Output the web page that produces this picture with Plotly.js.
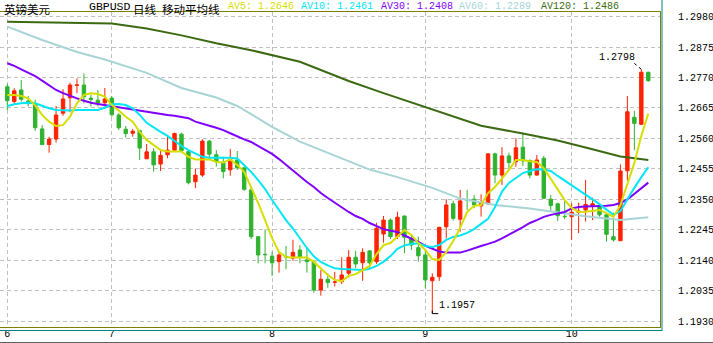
<!DOCTYPE html>
<html>
<head>
<meta charset="utf-8">
<script src="https://cdn.plot.ly/plotly-3.0.1.min.js"></script>
<style>
html,body{margin:0;padding:0;background:#fff;}
#chart{width:713px;height:343px;}
</style>
</head>
<body>
<div id="chart"></div>
<script>
// ---- data ----
const open = [1.2738,1.2687,1.2727,1.2689,1.2679,1.2593,1.2539,1.2558,1.2647,1.2700,
1.2743,1.2744,1.2699,1.2692,1.2683,1.2699,1.2641,1.2592,1.2578,1.2587,
1.2490,1.2514,1.2472,1.2504,1.2520,1.2575,1.2515,1.2411,1.2434,1.2551,
1.2504,1.2477,1.2452,1.2486,1.2459,1.2383,1.2222,1.2161,1.2155,1.2136,
1.2154,1.2148,1.2176,1.2142,1.2135,1.2038,1.2075,1.2065,1.2067,1.2096,
1.2151,1.2132,1.2173,1.2136,1.2231,1.2279,1.2222,1.2293,1.2216,1.2184,
1.2159,1.2070,1.2084,1.2256,1.2335,1.2282,1.2349,1.2351,1.2328,1.2335,
1.2507,1.2434,1.2500,1.2480,1.2530,1.2484,1.2434,1.2492,1.2351,1.2335,
1.2292,1.2291,1.2305,1.2314,1.2330,1.2328,1.2297,1.2222,1.2208,1.2449,
1.2633,1.2609,1.2788];
const high = [1.2748,1.2733,1.2761,1.2706,1.2693,1.2606,1.2566,1.2672,1.2730,1.2752,
1.2767,1.2784,1.2710,1.2727,1.2734,1.2706,1.2647,1.2603,1.2593,1.2590,
1.2541,1.2526,1.2524,1.2572,1.2580,1.2580,1.2520,1.2457,1.2557,1.2555,
1.2520,1.2497,1.2524,1.2517,1.2463,1.2394,1.2223,1.2247,1.2170,1.2167,
1.2190,1.2211,1.2193,1.2182,1.2142,1.2107,1.2096,1.2101,1.2151,1.2176,
1.2173,1.2182,1.2176,1.2270,1.2293,1.2285,1.2308,1.2295,1.2228,1.2222,
1.2176,1.2096,1.2256,1.2351,1.2346,1.2383,1.2383,1.2365,1.2368,1.2508,
1.2511,1.2530,1.2511,1.2561,1.2580,1.2488,1.2503,1.2500,1.2365,1.2339,
1.2346,1.2337,1.2339,1.2417,1.2356,1.2335,1.2302,1.2305,1.2471,1.2706,
1.2655,1.2798,1.2790];
const low = [1.2658,1.2679,1.2687,1.2670,1.2586,1.2537,1.2511,1.2546,1.2638,1.2650,
1.2716,1.2681,1.2670,1.2670,1.2670,1.2635,1.2589,1.2563,1.2566,1.2486,
1.2489,1.2446,1.2448,1.2492,1.2518,1.2516,1.2402,1.2389,1.2428,1.2486,
1.2463,1.2423,1.2432,1.2452,1.2380,1.2214,1.2130,1.2130,1.2087,1.2098,
1.2110,1.2139,1.2130,1.2098,1.2029,1.2019,1.2046,1.2050,1.2059,1.2082,
1.2113,1.2070,1.2113,1.2128,1.2201,1.2214,1.2214,1.2165,1.2176,1.2136,
1.2044,1.1957,1.2070,1.2216,1.2277,1.2239,1.2314,1.2320,1.2291,1.2331,
1.2406,1.2400,1.2452,1.2463,1.2465,1.2423,1.2432,1.2352,1.2308,1.2276,
1.2282,1.2211,1.2234,1.2274,1.2279,1.2291,1.2205,1.2205,1.2207,1.2415,
1.2520,1.2606,1.2755];
const close = [1.2690,1.2724,1.2695,1.2680,1.2597,1.2539,1.2558,1.2641,1.2696,1.2744,
1.2744,1.2704,1.2694,1.2683,1.2696,1.2642,1.2597,1.2577,1.2585,1.2527,
1.2514,1.2469,1.2502,1.2520,1.2577,1.2518,1.2408,1.2434,1.2551,1.2506,
1.2480,1.2446,1.2488,1.2459,1.2385,1.2222,1.2159,1.2160,1.2132,1.2159,
1.2152,1.2168,1.2151,1.2136,1.2038,1.2075,1.2064,1.2066,1.2090,1.2151,
1.2128,1.2168,1.2132,1.2251,1.2279,1.2222,1.2289,1.2220,1.2193,1.2156,
1.2073,1.2082,1.2254,1.2331,1.2285,1.2345,1.2348,1.2331,1.2337,1.2507,
1.2434,1.2500,1.2477,1.2528,1.2483,1.2434,1.2486,1.2354,1.2329,1.2294,
1.2291,1.2306,1.2310,1.2333,1.2335,1.2297,1.2230,1.2211,1.2448,1.2652,
1.2612,1.2788,1.2759];

const ma5 = [1.2710,1.2710,1.2706,1.2698,1.2674,1.2641,1.2618,1.2603,1.2606,1.2635,
1.2681,1.2710,1.2716,1.2713,1.2704,1.2675,1.2656,1.2635,1.2618,1.2583,
1.2555,1.2538,1.2520,1.2515,1.2515,1.2515,1.2497,1.2488,1.2488,1.2488,
1.2479,1.2477,1.2488,1.2469,1.2445,1.2393,1.2338,1.2279,1.2217,1.2169,
1.2152,1.2150,1.2150,1.2150,1.2135,1.2114,1.2090,1.2073,1.2069,1.2087,
1.2093,1.2107,1.2121,1.2162,1.2193,1.2200,1.2224,1.2245,1.2228,1.2200,
1.2176,1.2145,1.2142,1.2169,1.2207,1.2252,1.2307,1.2328,1.2331,1.2372,
1.2393,1.2421,1.2452,1.2486,1.2486,1.2482,1.2479,1.2458,1.2421,1.2383,
1.2348,1.2321,1.2307,1.2308,1.2310,1.2314,1.2303,1.2290,1.2331,1.2400,
1.2476,1.2569,1.2646];
const ma10 = [1.2672,1.2678,1.2681,1.2683,1.2681,1.2672,1.2664,1.2658,1.2656,1.2656,
1.2658,1.2658,1.2658,1.2658,1.2666,1.2678,1.2679,1.2675,1.2664,1.2641,
1.2614,1.2597,1.2583,1.2569,1.2551,1.2534,1.2520,1.2509,1.2497,1.2494,
1.2494,1.2494,1.2494,1.2491,1.2469,1.2445,1.2417,1.2386,1.2348,1.2314,
1.2279,1.2250,1.2216,1.2183,1.2154,1.2135,1.2123,1.2113,1.2111,1.2109,
1.2107,1.2107,1.2111,1.2121,1.2136,1.2155,1.2180,1.2192,1.2197,1.2199,
1.2190,1.2186,1.2193,1.2211,1.2221,1.2226,1.2235,1.2248,1.2266,1.2283,
1.2324,1.2377,1.2407,1.2424,1.2441,1.2448,1.2454,1.2453,1.2448,1.2431,
1.2415,1.2398,1.2383,1.2367,1.2350,1.2334,1.2315,1.2297,1.2310,1.2352,
1.2390,1.2427,1.2461];
const ma30 = [1.2819,1.2810,1.2798,1.2787,1.2775,1.2759,1.2744,1.2727,1.2716,1.2706,
1.2698,1.2690,1.2683,1.2679,1.2675,1.2673,1.2669,1.2664,1.2660,1.2656,
1.2651,1.2649,1.2644,1.2641,1.2638,1.2633,1.2630,1.2618,1.2612,1.2604,
1.2597,1.2589,1.2578,1.2567,1.2557,1.2548,1.2534,1.2520,1.2507,1.2489,
1.2469,1.2448,1.2431,1.2410,1.2393,1.2372,1.2355,1.2338,1.2321,1.2307,
1.2293,1.2283,1.2269,1.2259,1.2248,1.2242,1.2238,1.2226,1.2216,1.2204,
1.2190,1.2180,1.2171,1.2167,1.2167,1.2167,1.2174,1.2183,1.2190,1.2197,
1.2205,1.2216,1.2228,1.2242,1.2255,1.2269,1.2279,1.2290,1.2297,1.2302,
1.2307,1.2319,1.2324,1.2326,1.2326,1.2328,1.2328,1.2331,1.2338,1.2350,
1.2369,1.2390,1.2408];
// smooth long averages, read at these bar positions
const ma60Idx = [0,5,10,14,20,25,30,33,35,38,42,47,52,56,61,65,70,75,79,83,88,92];
const ma60 = [1.2945,1.2899,1.2858,1.2832,1.2786,1.2734,1.2701,1.2672,1.2644,1.2600,1.2549,
1.2501,1.2453,1.2427,1.2390,1.2353,1.2331,1.2319,1.2305,1.2292,1.2279,1.2289];
const ma120Idx = [0,7,15,20,25,30,35,42,49,54,59,64,68,74,79,83,88,92];
const ma120 = [1.2962,1.2960,1.2956,1.2939,1.2915,1.2888,1.2864,1.2824,1.2758,1.2716,
1.2676,1.2635,1.2604,1.2577,1.2553,1.2529,1.2498,1.2486];

const monthStartIdx = [0, 15, 38, 60, 81];
const monthLabels = ['6', '7', '8', '9', '10'];
const priceTicks = [1.1930,1.2035,1.2140,1.2245,1.2350,1.2455,1.2560,1.2665,1.2770,1.2875,1.2980];

// ---- styling ----
const C5 = '#d6de00', C10 = '#00e6f6', C30 = '#7f00ff', C60 = '#a8d4d6', C120 = '#3b6a12';
const MONO = 'Liberation Mono, DejaVu Sans Mono, monospace';
const CJK = 'Noto Sans CJK SC, sans-serif';

const bars = open.map((_, i) => i);

// pixel helpers for page furniture (plot area: x 0..660, y 12..327)
const PW = 660, PT = 12, PB = 327, PH = PB - PT;
const px = v => v / PW;
const py = v => (PB - v) / PH;

function maLine(x, y, color) {
  return {type: 'scatter', mode: 'lines', x: x, y: y, hoverinfo: 'skip',
          line: {color: color, width: 2}, showlegend: false};
}

const traces = [
  maLine(ma120Idx, ma120, C120),
  maLine(ma60Idx, ma60, C60),
  maLine(bars, ma30, C30),
  maLine(bars, ma10, C10),
  maLine(bars, ma5, C5),
  {
    type: 'candlestick', x: bars, open: open, high: high, low: low, close: close,
    increasing: {line: {color: '#ff2200', width: 1}, fillcolor: '#ff2200'},
    decreasing: {line: {color: '#2fb32f', width: 1}, fillcolor: '#2fb32f'},
    whiskerwidth: 0, hoverinfo: 'skip', showlegend: false
  }
];

const last = close.length - 1;
let hiIdx = 0, loIdx = 0;
high.forEach((v, i) => { if (v > high[hiIdx]) hiIdx = i; });
low.forEach((v, i) => { if (v < low[loIdx]) loIdx = i; });

function legendText(x, text, color, font, size) {
  return {xref: 'paper', yref: 'paper', x: px(x), y: py(6), xanchor: 'left', yanchor: 'middle',
          text: text, showarrow: false, font: {family: font, size: size, color: color}, borderpad: 0};
}
function legendCJK(x, text, size) {
  return {xref: 'paper', yref: 'paper', x: px(x), y: py(0), xanchor: 'left', yanchor: 'top',
          text: text, showarrow: false, font: {family: CJK, size: size, color: '#000'}, borderpad: 0};
}

const annotations = [
  legendCJK(3, '英镑美元', 11.5),
  legendText(88, 'GBPUSD', '#000', MONO, 11.5),
  legendCJK(132, '日线', 11.5),
  legendCJK(161, '移动平均线', 11.5),
  legendText(227, 'AV5: ' + ma5[last].toFixed(4), C5, MONO, 10),
  legendText(300, 'AV10: ' + ma10[last].toFixed(4), C10, MONO, 10),
  legendText(380, 'AV30: ' + ma30[last].toFixed(4), C30, MONO, 10),
  legendText(458, 'AV60: ' + ma60[ma60.length - 1].toFixed(4), C60, MONO, 10),
  legendText(540, 'AV120: ' + ma120[ma120.length - 1].toFixed(4), C120, MONO, 10),
  {x: hiIdx, y: high[hiIdx], xref: 'x', yref: 'y', text: high[hiIdx].toFixed(4), showarrow: false,
   xanchor: 'right', yanchor: 'middle', xshift: -5, yshift: 12, borderpad: 0,
   font: {family: MONO, size: 10, color: '#000'}},
  {x: loIdx, y: low[loIdx], xref: 'x', yref: 'y', text: low[loIdx].toFixed(4), showarrow: false,
   xanchor: 'left', yanchor: 'middle', xshift: 6, yshift: 8, borderpad: 0,
   font: {family: MONO, size: 10, color: '#000'}}
];

const shapes = [
  // leader to the high
  {type: 'line', xref: 'x', yref: 'y', xsizemode: 'pixel', ysizemode: 'pixel',
   xanchor: hiIdx, yanchor: high[hiIdx], x0: -7, y0: 6, x1: 0, y1: 0,
   line: {color: '#000', width: 1, dash: 'dot'}},
  // L mark at the low
  {type: 'line', xref: 'x', yref: 'y', xsizemode: 'pixel', ysizemode: 'pixel',
   xanchor: loIdx, yanchor: low[loIdx], x0: 0, y0: 0, x1: 6, y1: 0,
   line: {color: '#000', width: 1}},
  {type: 'line', xref: 'x', yref: 'y', xsizemode: 'pixel', ysizemode: 'pixel',
   xanchor: loIdx, yanchor: low[loIdx], x0: 0, y0: 0, x1: 0, y1: 3,
   line: {color: '#000', width: 1}},
  // outer frame
  {type: 'line', xref: 'paper', yref: 'paper', x0: px(662), x1: px(662), y0: py(331), y1: py(0),
   line: {color: '#008080', width: 1}},
  {type: 'line', xref: 'paper', yref: 'paper', x0: px(0), x1: px(662), y0: py(330.5), y1: py(330.5),
   line: {color: '#008080', width: 1}},
  {type: 'line', xref: 'paper', yref: 'paper', x0: px(0), x1: px(713), y0: py(342.5), y1: py(342.5),
   line: {color: '#606060', width: 1}}
];

const layout = {
  width: 713, height: 343,
  margin: {l: 0, r: 713 - PW, t: PT, b: 343 - PB, pad: 0},
  paper_bgcolor: '#ffffff', plot_bgcolor: '#ffffff',
  showlegend: false,
  xaxis: {
    range: [-1.048, 93.68], rangeslider: {visible: false},
    tickmode: 'array', tickvals: monthStartIdx, ticktext: monthLabels,
    showgrid: true, gridcolor: '#c0c0c0', gridwidth: 1, griddash: '4px,3px',
    zeroline: false, ticks: '', ticklabelstandoff: -3,
    showline: true, linecolor: '#808000', linewidth: 1, mirror: true,
    tickfont: {family: MONO, size: 10, color: '#000'}, fixedrange: true
  },
  yaxis: {
    side: 'right', range: [1.19109, 1.29955],
    tickmode: 'array', tickvals: priceTicks, ticktext: priceTicks.map(v => v.toFixed(4)),
    showgrid: true, gridcolor: '#c0c0c0', gridwidth: 1, griddash: '4px,3px',
    zeroline: false, ticks: '', ticklabelstandoff: 15,
    showline: true, linecolor: '#808000', linewidth: 1, mirror: false,
    tickfont: {family: MONO, size: 10, color: '#000'}, fixedrange: true
  },
  annotations: annotations,
  shapes: shapes
};

Plotly.newPlot('chart', traces, layout, {staticPlot: true, displayModeBar: false});
</script>
</body>
</html>
